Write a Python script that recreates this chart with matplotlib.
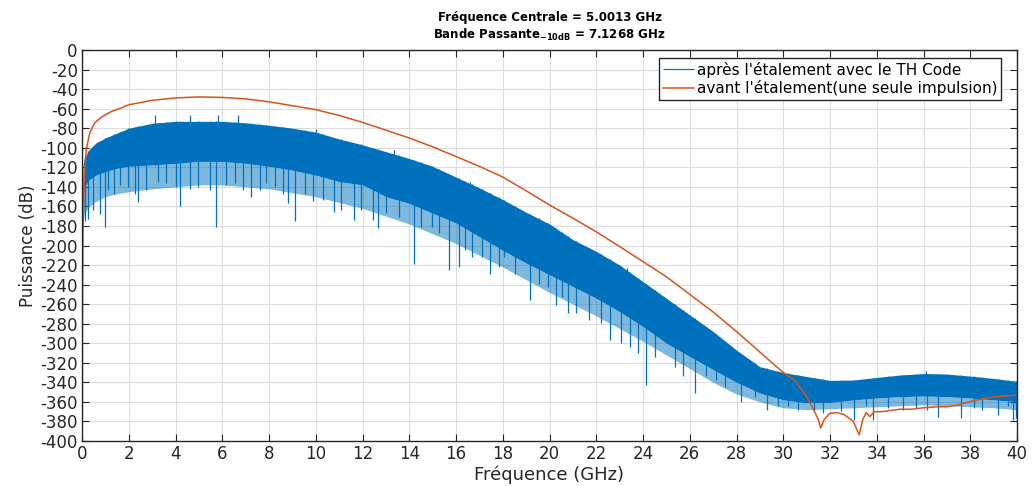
import numpy as np
import matplotlib.pyplot as plt

# spectre avant etalement (une seule impulsion)
f_single = [0, 0.02, 0.04, 0.1, 0.18, 0.33, 0.54, 0.9, 1.25, 1.7, 2, 3, 4, 5, 6, 7, 8, 9, 10,
            11, 12, 13, 14, 15, 16, 17, 18, 19, 20, 21, 22, 23, 24, 25, 26, 27, 28, 29, 30,
            30.5, 31, 31.3, 31.5, 31.6, 31.75, 32, 32.3, 32.6, 32.9, 33.0, 33.15, 33.25, 33.4,
            33.55, 33.7, 33.9, 34.2, 34.5, 35, 35.5, 36, 36.6, 37, 37.5, 38, 38.5, 39, 39.5, 40]
p_single = [-330, -250, -181, -130, -102, -85, -74.5, -67.6, -63, -59, -56, -51.5, -49, -48,
            -48.5, -50, -53, -57, -61, -67, -74, -82, -90, -99, -109, -119, -130, -144, -158.6,
            -172, -186, -201, -216.5, -232, -250, -268, -288, -309, -330, -338, -354.6, -368,
            -378, -386.8, -378, -371.5, -371, -373, -378, -380, -388.5, -393.6, -378, -371,
            -375, -370, -370, -369, -367.5, -367.5, -366, -365, -365, -363, -359.7, -357, -355,
            -354, -353]

# spectre apres etalement (TH code) : enveloppes de la bande bleue
f_band = [0.02, 0.05, 0.1, 0.3, 0.6, 1, 1.5, 2, 3, 4, 5, 6, 7, 8, 9, 10, 11, 12, 13, 14, 15,
          16, 17, 18, 19, 20, 21, 22, 23, 24, 25, 26, 27, 28, 29, 30, 31, 32, 33, 34, 35, 36,
          37, 38, 39, 40]
p_top = [-150, -116, -111, -102, -95, -90, -85, -80, -75, -73, -73, -73, -74.5, -77, -80, -84,
         -91, -97, -104, -111, -119, -130, -141, -153, -166, -178, -194, -206, -220, -237, -254,
         -271, -288, -307, -324, -330, -334, -338, -337.6, -335, -332.5, -331, -331.5, -333.6,
         -336, -339]
p_dense = [-200, -150, -140, -133, -128, -124.5, -121, -119, -117.6, -116, -114, -114, -116,
           -119, -123, -128, -134.7, -138, -150, -157, -167, -177, -191, -205, -218, -230, -242,
           -254, -267.7, -283, -300, -313.6, -327, -340, -351, -358, -361, -360.7, -358, -356,
           -354.6, -354, -354.6, -356, -358, -359.7]
p_fringe = [-230, -175, -168, -160, -155, -150, -147, -145, -142, -140, -138, -138, -140, -142,
            -146, -150, -156, -162, -170, -178, -188, -198, -210, -222, -235, -248, -260, -272,
            -285, -298, -312, -326, -340, -352, -360, -366, -368, -367, -366, -365, -364, -363,
            -364, -365, -366, -368]

# pics vers le bas (position GHz, niveau dB)
spike_f = [0.0, 0.11, 0.26, 0.47, 0.76, 0.97, 1.11, 1.37, 1.61, 1.97, 2.25, 2.4, 2.75, 3.25,
           3.61, 4.04, 4.18, 4.6, 4.96, 5.46, 5.75, 6.17, 6.53, 6.89, 7.24, 7.6, 7.89, 8.24, 8.6,
           8.81, 9.13, 9.53, 9.88, 10.3, 10.79, 11.08, 11.64, 11.93, 12.43, 12.68, 12.99, 13.56,
           14.2, 14.49, 14.98, 15.27, 15.69, 16.12, 16.4, 16.69, 17.11, 17.47, 17.82, 18.04,
           18.53, 19.17, 19.53, 19.95, 20.27, 20.52, 20.79, 21.14, 21.71, 22.21, 22.57, 23.07,
           23.43, 23.79, 24.14, 24.5, 25.36, 25.71, 26.21, 26.71, 27.14, 27.5, 28.21, 28.79,
           29.29, 29.79, 30.21, 30.62, 31.33, 31.69, 32.47, 33.04, 33.54, 33.82, 34.46, 35.11,
           35.68, 36.17, 36.6, 37.6, 38.17, 38.52, 39.17, 39.6, 39.85, 39.95]
spike_p = [-373, -174.5, -172.8, -164, -167.6, -181, -143.4, -147, -138, -140, -147, -155.5,
           -143, -135, -136.5, -140, -160, -141.7, -140, -143, -181, -138, -136.5, -143, -150,
           -143, -136.5, -140, -147, -157, -174.5, -147, -154, -153.5, -165.5, -163.8, -174,
           -163.8, -174, -182.6, -167, -170.6, -218.5, -180.9, -180.9, -187.7, -225.3, -221.9,
           -204.8, -211.6, -211.6, -228.7, -221.9, -211.6, -228.7, -256, -239, -242.4, -261.2,
           -252.6, -269.4, -269.4, -276.2, -279.6, -296.6, -300, -303.4, -310.2, -342.6,
           -313.6, -323.8, -334, -351, -334, -337.4, -344.3, -359.6, -354.5, -368, -364.7,
           -364.7, -368, -369.8, -371.5, -369.8, -378.3, -364.7, -378.3, -366.4, -368, -366.4,
           -368, -375, -376.6, -366.4, -368, -373, -364.7, -378.3, -376.6]

# pics vers le haut
peak_f = [3.13, 4.6, 5.8, 6.67, 10.0, 13.35, 16.6, 23.3, 26.6, 36.1]
peak_p = [-67, -67, -66, -67, -80.7, -102, -135, -223, -281, -328]

blue = '#0072BD'
orange = '#D95319'

plt.rcParams['font.family'] = ['DejaVu Sans']
plt.rcParams['axes.unicode_minus'] = False

fig = plt.figure(figsize=(10.32, 4.86), dpi=100)
ax = fig.add_axes([82 / 1032, 1 - 441 / 486, (1017 - 82) / 1032, (441 - 50) / 486])

ax.fill_between(f_band, p_fringe, p_dense, color=blue, alpha=0.5, lw=0)
ax.fill_between(f_band, p_dense, p_top, color=blue, lw=0)
top_at_spike = np.interp(spike_f, f_band, p_top)
ax.vlines(spike_f, spike_p, top_at_spike, color=blue, lw=0.9,
          label="après l'étalement avec le TH Code")
ax.vlines(peak_f, peak_p, np.interp(peak_f, f_band, p_dense), color=blue, lw=0.9)
ax.plot(f_single, p_single, color=orange, lw=1.1,
        label="avant l'étalement(une seule impulsion)")

ax.set_xlim(0, 40)
ax.set_ylim(-400, 0)
ax.set_xticks(np.arange(0, 41, 2))
ax.set_yticks(np.arange(-400, 1, 20))
ax.grid(True, color='#DCDCDC', lw=0.8)
ax.set_axisbelow(True)
ax.tick_params(direction='in', top=True, right=True, length=5, labelsize=12,
               colors='#262626', pad=3)
for s in ax.spines.values():
    s.set_color('#262626')
    s.set_linewidth(1)

ax.set_xlabel('Fréquence (GHz)', fontsize=13, color='#262626', labelpad=2)
ax.set_ylabel('Puissance (dB)', fontsize=12, color='#262626', labelpad=2)
ax.set_title('Fréquence Centrale = 5.0013 GHz\n'
             'Bande Passante$_{\\mathbf{-10dB}}$ = 7.1268 GHz',
             fontsize=8.5, fontweight='bold', pad=8)

leg = ax.legend(loc='upper right', bbox_to_anchor=(0.983, 0.98), borderaxespad=0,
                fancybox=False, edgecolor='#262626', fontsize=11, handlelength=2.0,
                handletextpad=0.2, borderpad=0.25, labelspacing=0.15, framealpha=1)
leg.get_frame().set_linewidth(1)

fig.savefig('out.png', dpi=100)
